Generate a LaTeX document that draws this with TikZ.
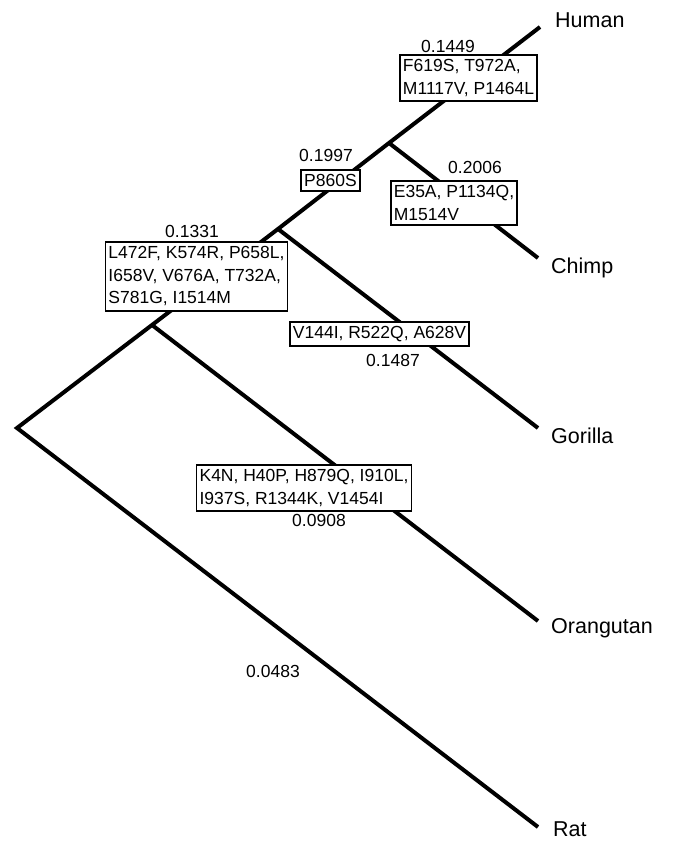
\documentclass[tikz,border=0pt]{standalone}
\usepackage{fontspec}
\setmainfont{Liberation Sans}
\begin{document}
\begin{tikzpicture}[x=1pt,y=-1pt,
  branch/.style={line width=4pt,line join=miter},
  mutbox/.style={draw,line width=1.8pt,fill=white,align=left,inner xsep=3pt,inner ysep=4.5pt,font=\fontsize{17.5}{22.5}\selectfont},
  blen/.style={inner sep=0pt,anchor=base,font=\fontsize{17.5}{21}\selectfont},
  taxon/.style={inner sep=0pt,anchor=base west,font=\fontsize{21.5}{26}\selectfont}]
\useasboundingbox (0,0) rectangle (673,842);
% tree nodes
\coordinate (root) at (17,428);
\coordinate (A) at (152,325);
\coordinate (B) at (278,229);
\coordinate (C) at (389,143);
\coordinate (tH) at (540,27);
\coordinate (tC) at (538,258);
\coordinate (tG) at (538,428);
\coordinate (tO) at (538,621);
\coordinate (tR) at (538,827);
% branches
\draw[branch] (tR) -- (root) -- (A) -- (B) -- (C) -- (tH);
\draw[branch] (A) -- (tO);
\draw[branch] (B) -- (tG);
\draw[branch] (C) -- (tC);
% taxon labels
\node[taxon] (lH) at (555,28) {Human};
\node[taxon] (lC) at (551,273) {Chimp};
\node[taxon] (lG) at (551,443) {Gorilla};
\node[taxon] (lO) at (551,633) {Orangutan};
\node[taxon] (lR) at (553,836) {Rat};
% mutation boxes
\node[mutbox] (m1) at (468.5,78) {F619S, T972A,\\M1117V, P1464L};
\node[mutbox] (m2) at (330.5,180.5) {P860S};
\node[mutbox] (m3) at (454,203) {E35A, P1134Q,\\M1514V};
\node[mutbox] (m4) at (196.5,276.5) {L472F, K574R, P658L,\\I658V, V676A, T732A,\\S781G, I1514M};
\node[mutbox] (m5) at (379.5,334) {V144I, R522Q, A628V};
\node[mutbox] (m6) at (304,488) {K4N, H40P, H879Q, I910L,\\I937S, R1344K, V1454I};
% branch lengths
\node[blen] (b1) at (448,53) {0.1449};
\node[blen] (b2) at (326,162) {0.1997};
\node[blen] (b3) at (475,174) {0.2006};
\node[blen] (b4) at (192,237) {0.1331};
\node[blen] (b5) at (393,366) {0.1487};
\node[blen] (b6) at (319,526) {0.0908};
\node[blen] (b7) at (273,677) {0.0483};
\end{tikzpicture}
\end{document}
